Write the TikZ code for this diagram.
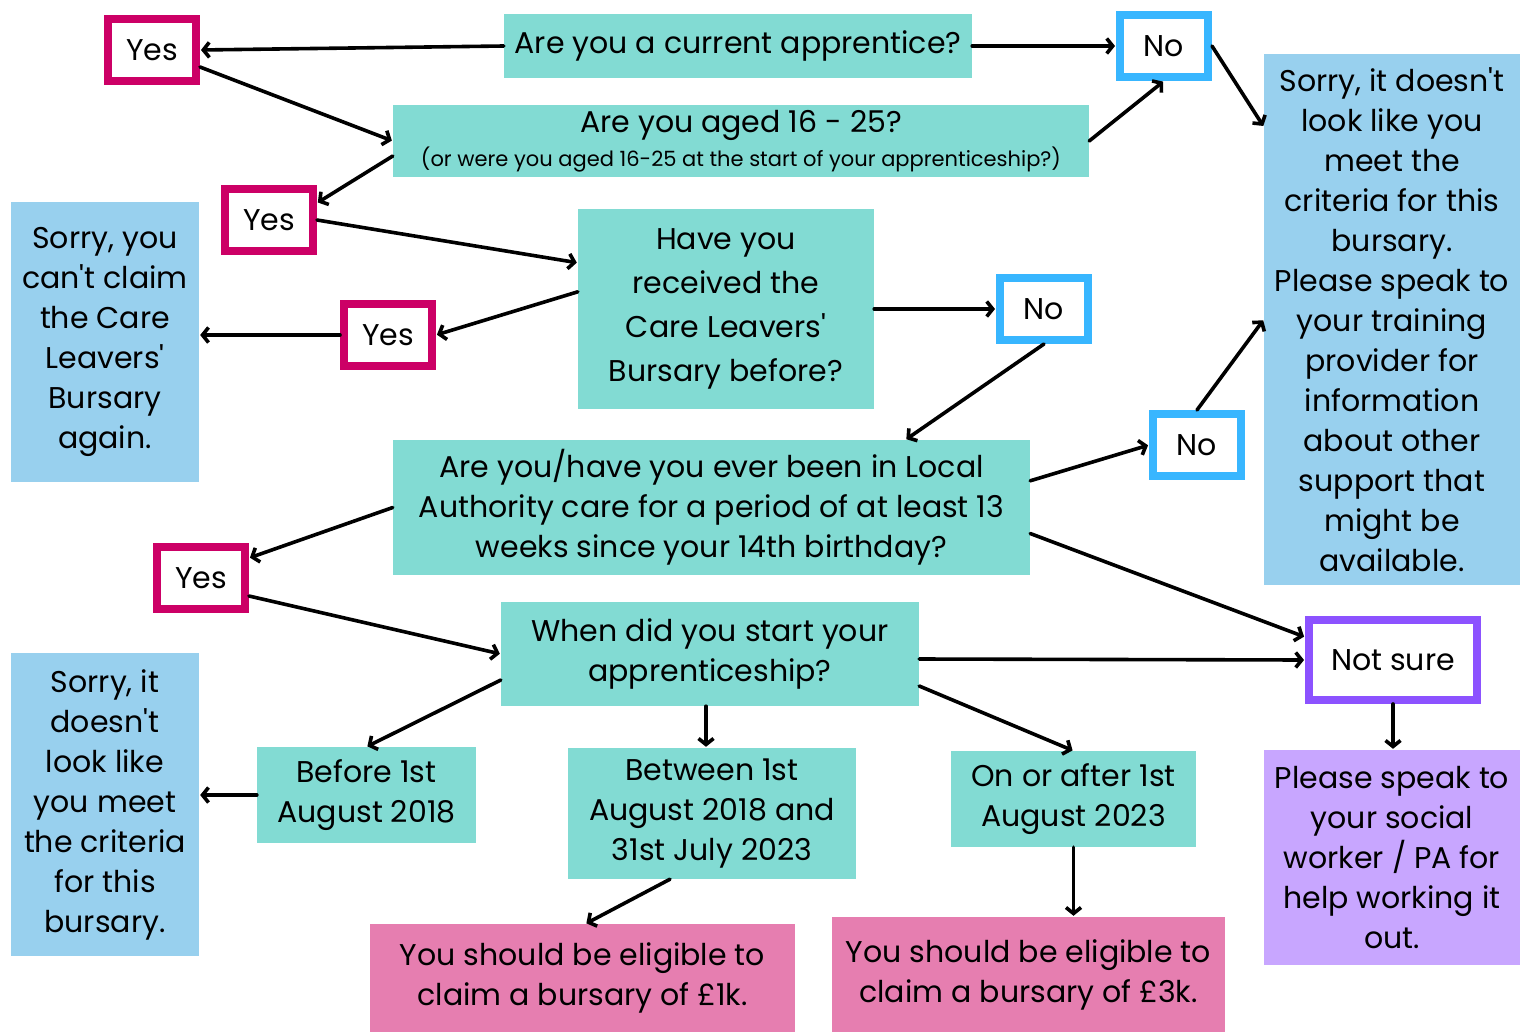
\documentclass[tikz,border=0pt]{standalone}
\usepackage{fontspec}
\setmainfont{Poppins}[Ligatures=TeXOff]
\usetikzlibrary{arrows.meta}
\definecolor{qteal}{HTML}{82DBD3}
\definecolor{sorryblue}{HTML}{98D0EE}
\definecolor{paypink}{HTML}{E67EB0}
\definecolor{helplilac}{HTML}{C8A6FF}
\definecolor{yesred}{HTML}{CC0066}
\definecolor{noblue}{HTML}{38B6FF}
\definecolor{unsureviolet}{HTML}{8C52FF}
\tikzset{
  txt/.style={align=center, inner sep=0pt, font=\fontsize{30}{40}\selectfont},
  qbox/.style={txt, fill=qteal},
  sorrybox/.style={txt, fill=sorryblue},
  paybox/.style={txt, fill=paypink},
  helpbox/.style={txt, fill=helplilac},
  answer/.style={txt, draw, line width=8pt, fill=white, minimum width=88pt, minimum height=62pt},
  yesbox/.style={answer, draw=yesred},
  nobox/.style={answer, draw=noblue},
  arr/.style={-{Straight Barb[length=6pt,width=15pt]}, line width=3.6pt, line cap=round, shorten >=1pt},
}
\begin{document}
\begin{tikzpicture}[x=1pt,y=-1pt]
\useasboundingbox (0,0) rectangle (1520,1033);

% Questions
\node[qbox, minimum width=468pt, minimum height=64pt] (Q1) at (738,46) {Are you a current apprentice?};
\node[qbox, minimum width=696pt, minimum height=72pt] (Q2) at (741,141)
  {Are you aged 16 - 25?\\[-6pt]{\fontsize{21}{24}\selectfont (or were you aged 16-25 at the start of your apprenticeship?)}};
\node[qbox, minimum width=296pt, minimum height=200pt, font=\fontsize{30}{44}\selectfont] (Q3) at (726,309)
  {Have you\\received the\\Care Leavers'\\Bursary before?};
\node[qbox, minimum width=637pt, minimum height=135pt] (Q4) at (711.5,507.5)
  {Are you/have you ever been in Local\\Authority care for a period of at least 13\\weeks since your 14th birthday?};
\node[qbox, minimum width=418pt, minimum height=104pt] (Q5) at (710,654) {When did you start your\\apprenticeship?};

% Dates
\node[qbox, minimum width=219pt, minimum height=96pt] (Before) at (366.5,795) {Before 1st\\August 2018};
\node[qbox, minimum width=288pt, minimum height=131pt] (Between) at (712,813.5) {Between 1st\\August 2018 and\\31st July 2023};
\node[qbox, minimum width=245pt, minimum height=96pt] (OnAfter) at (1073.5,799) {On or after 1st\\August 2023};

% Answers
\node[yesbox] (Yes1) at (152,50) {Yes};
\node[yesbox] (Yes2) at (269,220) {Yes};
\node[yesbox] (Yes3) at (388,335) {Yes};
\node[yesbox] (Yes4) at (201,578) {Yes};
\node[nobox] (No1) at (1164,46) {No};
\node[nobox] (No2) at (1044,309) {No};
\node[nobox] (No3) at (1197,445) {No};
\node[answer, draw=unsureviolet, minimum width=168pt, minimum height=80pt] (NotSure) at (1393,660) {Not sure};

% Outcomes
\node[sorrybox, minimum width=188pt, minimum height=280pt] (Sorry1) at (105,342)
  {Sorry, you\\can't claim\\the Care\\Leavers'\\Bursary\\again.};
\node[sorrybox, minimum width=256pt, minimum height=531pt] (Sorry2) at (1392,319.5)
  {Sorry, it doesn't\\look like you\\meet the\\criteria for this\\bursary.\\Please speak to\\your training\\provider for\\information\\about other\\support that\\might be\\available.};
\node[sorrybox, minimum width=188pt, minimum height=303pt] (Sorry3) at (105,804.5)
  {Sorry, it\\doesn't\\look like\\you meet\\the criteria\\for this\\bursary.};
\node[helpbox, minimum width=256pt, minimum height=215pt] (Help) at (1392,857.5)
  {Please speak to\\your social\\worker / PA for\\help working it\\out.};
\node[paybox, minimum width=425pt, minimum height=108pt] (Pay1) at (582.5,978) {You should be eligible to\\claim a bursary of £1k.};
\node[paybox, minimum width=393pt, minimum height=115pt] (Pay3) at (1028.5,974.5) {You should be eligible to\\claim a bursary of £3k.};

% Connectors
\draw[arr] (Q1.west) -- (Yes1.east);
\draw[arr] (Q1.east) -- (No1.west);
\draw[arr] ([yshift=18pt]Yes1.south east) -- (Q2.west);
\draw[arr] ([yshift=-15pt]Q2.west) -- ([yshift=-18pt]Yes2.north east);
\draw[arr] (Q2.east) -- (No1.south);
\draw[arr] (No1.east) -- ([yshift=-73pt]Sorry2.north west);
\draw[arr] (Yes2.east) -- ([yshift=-54pt]Q3.north west);
\draw[arr] ([yshift=-83pt]Q3.north west) -- (Yes3.east);
\draw[arr] (Yes3.west) -- (Yes3.west -| Sorry1.east);
\draw[arr] (Q3.east) -- (No2.west);
\draw[arr] (No2.south) -- ([xshift=194pt]Q4.north);
\draw[arr] ([yshift=-41pt]Q4.north east) -- (No3.west);
\draw[arr] (No3.north) -- (Sorry2.west);
\draw[arr] (Q4.west) -- ([yshift=20pt]Yes4.east);
\draw[arr] ([yshift=-26pt]Q4.east) -- ([yshift=-21pt]NotSure.north west);
\draw[arr] ([yshift=-18pt]Yes4.east) -- (Q5.west);
\draw[arr] ([yshift=-5pt]Q5.east) -- (NotSure.west);
\draw[arr] ([yshift=-26pt]Q5.west) -- (Before.north);
\draw[arr] ([xshift=-4pt]Q5.south) -- ([xshift=-4pt]Q5.south |- Between.north);
\draw[arr] ([yshift=-32pt]Q5.east) -- (OnAfter.north);
\draw[arr] (Before.west) -- (Before.west -| Sorry3.east);
\draw[arr] ([xshift=-42pt]Between.south) -- ([xshift=3pt]Pay1.north);
\draw[arr] (OnAfter.south) -- (OnAfter.south |- Pay3.north);
\draw[arr] (NotSure.south) -- (NotSure.south |- Help.north);
\end{tikzpicture}
\end{document}
